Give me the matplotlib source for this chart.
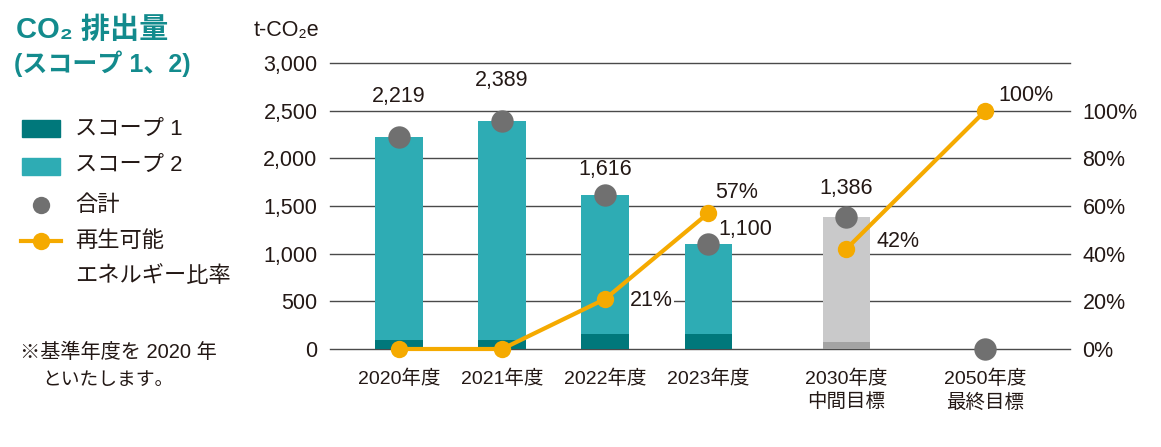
import matplotlib
matplotlib.use("Agg")
import matplotlib.pyplot as plt
from matplotlib.patches import Rectangle
from matplotlib.lines import Line2D

plt.rcParams['font.family'] = ['Liberation Sans', 'Noto Sans CJK JP', 'DejaVu Sans']

categories = ["2020年度", "2021年度", "2022年度", "2023年度", "2030年度\n中間目標", "2050年度\n最終目標"]
positions = [0, 1, 2, 3, 4.34, 5.69]
scope1 = [95, 95, 157, 157, 70, 0]
totals = [2219, 2389, 1616, 1100, 1386, 0]
total_labels = ["2,219", "2,389", "1,616", "1,100", "1,386", ""]
renew = [0, 0, 21, 57, 42, 100]
renew_labels = ["", "", "21%", "57%", "42%", "100%"]
left_ticks = [0, 500, 1000, 1500, 2000, 2500, 3000]
right_ticks = [0, 20, 40, 60, 80, 100]

C_S1 = "#00787b"
C_S2 = "#2eacb4"
C_GRAY_DOT = "#707070"
C_ORANGE = "#f5aa00"
C_TITLE = "#138b8d"
C_TXT = "#231815"
C_TARGET = "#c9c9ca"
C_TARGET_DARK = "#a3a3a3"

NUM_FS = 15.5

fig = plt.figure(figsize=(11.61, 4.47), dpi=100)
ax = fig.add_axes([330/1161, 1-349/447, 740/1161, (349-63)/447])
ax.set_xlim(-0.67, 6.51)
ax.set_ylim(0, 3000)

for y in left_ticks:
    ax.axhline(y, color="#4a4a4a", lw=1.0, zorder=1, clip_on=False)

w = 0.46
for i, p in enumerate(positions):
    if i < 4:
        ax.bar(p, scope1[i], width=w, color=C_S1, zorder=2)
        ax.bar(p, totals[i]-scope1[i], bottom=scope1[i], width=w, color=C_S2, zorder=2)
    elif i == 4:
        ax.bar(p, scope1[i], width=w, color=C_TARGET_DARK, zorder=2)
        ax.bar(p, totals[i]-scope1[i], bottom=scope1[i], width=w, color=C_TARGET, zorder=2)

ax.scatter(positions, totals, s=260, color=C_GRAY_DOT, zorder=4, clip_on=False, linewidths=0)

ax2 = ax.twinx()
ax2.set_ylim(0, 120)
# actual results (2020-2023) and targets (2030-2050) drawn as separate segments
ax2.plot(positions[:4], renew[:4], color=C_ORANGE, lw=3, marker='o', markersize=12.5,
         markeredgewidth=0, zorder=5, clip_on=False)
ax2.plot(positions[4:], renew[4:], color=C_ORANGE, lw=3, marker='o', markersize=12.5,
         markeredgewidth=0, zorder=5, clip_on=False)

for a in (ax, ax2):
    for s in a.spines.values():
        s.set_visible(False)

ax.set_yticks(left_ticks)
ax.set_yticklabels([f"{v:,}" for v in left_ticks])
ax.tick_params(axis='y', length=0, pad=9, labelsize=NUM_FS, labelcolor=C_TXT)
ax.set_xticks(positions)
ax.set_xticklabels(categories, linespacing=1.35)
ax.tick_params(axis='x', length=0, pad=15, labelsize=14, labelcolor=C_TXT)
ax2.set_yticks(right_ticks)
ax2.set_yticklabels([f"{v}%" for v in right_ticks])
ax2.tick_params(axis='y', length=0, pad=9, labelsize=NUM_FS, labelcolor=C_TXT)
ax2.set_zorder(ax.get_zorder()+1)
ax2.patch.set_visible(False)

# total labels (offsets in points)
tl_offsets = {0: (0, 22, 'center'), 1: (0, 22, 'center'), 2: (0, 11, 'center'),
              3: (7, 10.5, 'left'), 4: (0, 13, 'center')}
for i, (dx, dy, ha) in tl_offsets.items():
    ax.annotate(total_labels[i], (positions[i], totals[i]), xytext=(dx, dy), textcoords='offset points',
                ha=ha, va='center' if ha == 'left' else 'bottom', fontsize=NUM_FS, color=C_TXT, zorder=6)

rl_offsets = {2: (18, -1), 3: (5, 15), 4: (22, 5), 5: (9, 11)}
for i, (dx, dy) in rl_offsets.items():
    ax2.annotate(renew_labels[i], (positions[i], renew[i]), xytext=(dx, dy), textcoords='offset points',
                 ha='left', va='center', fontsize=NUM_FS, color=C_TXT, zorder=6,
                 bbox=dict(boxstyle='square,pad=0.05', fc='white', ec='none') if i == 2 else None)

def fx(px):
    return px/1161
def fy(py):
    return 1-py/447

# unit label
fig.text(fx(319), fy(30), "t-CO₂e", ha='right', va='center', fontsize=NUM_FS, color=C_TXT)

# title
fig.text(fx(16), fy(30), "CO₂ 排出量", ha='left', va='center', fontsize=21, fontweight='bold', color=C_TITLE)
fig.text(fx(14), fy(64), "(スコープ 1、2)", ha='left', va='center', fontsize=18, fontweight='bold', color=C_TITLE)

# legend
fig.patches.append(Rectangle((fx(22), fy(137)), 38/1161, 17/447, color=C_S1, transform=fig.transFigure))
fig.patches.append(Rectangle((fx(22), fy(175)), 38/1161, 17/447, color=C_S2, transform=fig.transFigure))
fig.lines.append(Line2D([fx(41)], [fy(205)], marker='o', markersize=12.5, color=C_GRAY_DOT, markeredgewidth=0, transform=fig.transFigure))
fig.lines.append(Line2D([fx(21), fx(61)], [fy(241), fy(241)], lw=3, color=C_ORANGE, transform=fig.transFigure))
fig.lines.append(Line2D([fx(41)], [fy(241)], marker='o', markersize=12.5, color=C_ORANGE, markeredgewidth=0, transform=fig.transFigure))
leg_texts = [("スコープ 1", 129), ("スコープ 2", 165), ("合計", 205), ("再生可能", 241), ("エネルギー比率", 277)]
for t, y in leg_texts:
    fig.text(fx(75), fy(y), t, ha='left', va='center', fontsize=16, color=C_TXT)

fig.text(fx(20), fy(352), "※基準年度を 2020 年", ha='left', va='center', fontsize=14.5, color=C_TXT)
fig.text(fx(42), fy(380), "といたします。", ha='left', va='center', fontsize=13.5, color=C_TXT)

fig.savefig("out.png", dpi=100)
